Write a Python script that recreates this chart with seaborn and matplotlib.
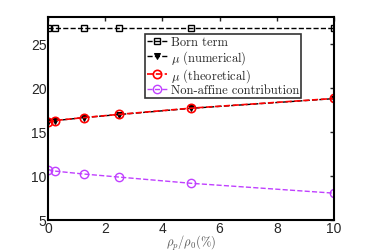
import numpy as np
import pandas as pd
import matplotlib
matplotlib.use("Agg")
import matplotlib.pyplot as plt
import seaborn as sns

# ===== data =====
rho = [0, 0.25, 1.25, 2.5, 5, 10]
born = [26.8, 26.8, 26.8, 26.8, 26.8, 26.8]
mu_num = [16.1, 16.25, 16.6, 16.95, 17.65, 18.75]
mu_theo = [16.1, 16.27, 16.6, 16.97, 17.67, 18.77]
non_affine = [10.7, 10.53, 10.2, 9.85, 9.15, 8.03]

sns.set_style("white")
plt.rcParams['font.family'] = ['Liberation Sans', 'DejaVu Sans']
plt.rcParams['mathtext.fontset'] = 'cm'

fig, ax = plt.subplots(figsize=(3.69, 2.51), dpi=100)
fig.subplots_adjust(left=0.13, right=0.905, top=0.928, bottom=0.12)

legend_font = {'family': 'cmr10', 'size': 9}

sns.lineplot(x=rho, y=born, ax=ax, color='black', linestyle='--', lw=1,
             marker='s', markersize=4.5, markerfacecolor='none',
             markeredgecolor='black', markeredgewidth=1, label='Born term')
sns.lineplot(x=rho, y=mu_num, ax=ax, color='black', linestyle='--', lw=1,
             marker='v', markersize=5, markerfacecolor='black',
             markeredgecolor='black', label=r'$\mu$ (numerical)')
sns.lineplot(x=rho, y=mu_theo, ax=ax, color='red', linestyle='--', lw=1.2,
             marker='o', markersize=6, markerfacecolor='none',
             markeredgecolor='red', markeredgewidth=1.2, label=r'$\mu$ (theoretical)')
sns.lineplot(x=rho, y=non_affine, ax=ax, color='#c040ff', linestyle='--', lw=1,
             marker='o', markersize=6, markerfacecolor='none',
             markeredgecolor='#c040ff', markeredgewidth=1, label='Non-affine contribution')

ax.set_xlim(0, 10)
ax.set_ylim(5, 28)
ax.set_xticks([0, 2, 4, 6, 8, 10])
ax.set_yticks([5, 10, 15, 20, 25])
ax.tick_params(direction='in', length=3, width=1, labelsize=10, top=True, right=True,
               pad=1)
for s in ax.spines.values():
    s.set_linewidth(1.5)
    s.set_color('black')

ax.set_xlabel(r'$\rho_p/\rho_0(\%)$', fontsize=9, color='#555555', labelpad=-2)

leg = ax.legend(loc='upper left', bbox_to_anchor=(0.34, 0.915), prop=legend_font,
                frameon=True, fancybox=False, borderpad=0.15, labelspacing=0.0,
                handlelength=1.6, handletextpad=0.3, borderaxespad=0)
leg.get_frame().set_edgecolor('black')
leg.get_frame().set_linewidth(1.2)

fig.savefig('out.png', dpi=100)
